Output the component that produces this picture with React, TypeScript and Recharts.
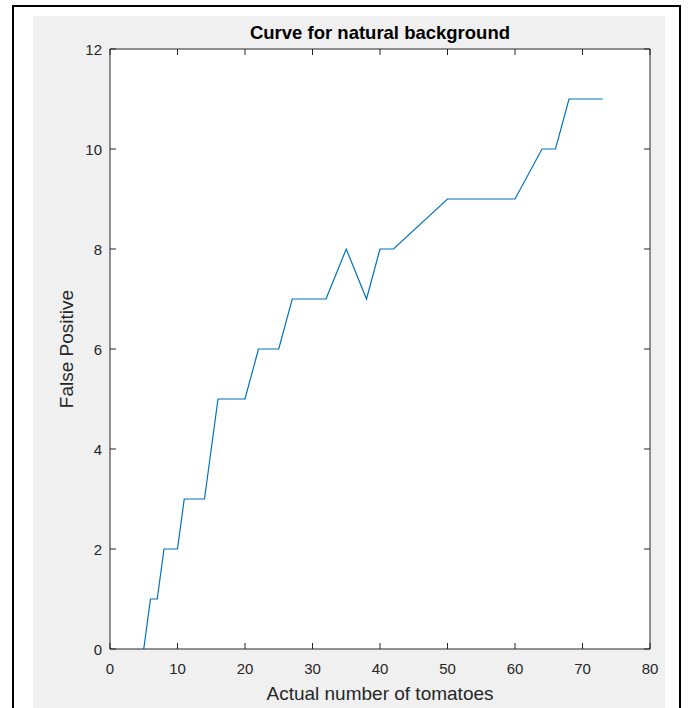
import React from 'react'
import { LineChart, Line, XAxis, YAxis, CartesianGrid } from 'recharts'

const tomatoes = [5, 6, 7, 8, 10, 11, 14, 16, 20, 22, 25, 27, 32, 35, 38, 40, 42, 50, 60, 64, 66, 68, 73]
const falsePositive = [0, 1, 1, 2, 2, 3, 3, 5, 5, 6, 6, 7, 7, 8, 7, 8, 8, 9, 9, 10, 10, 11, 11]
const xTicks = [0, 10, 20, 30, 40, 50, 60, 70, 80]
const yTicks = [0, 2, 4, 6, 8, 10, 12]

const data = tomatoes.map((x, i) => ({ x, y: falsePositive[i] }))

const axisColor = '#262626'
const font = '"Liberation Sans", Arial, sans-serif'
// tick props arrive shifted by tickSize + tickMargin (1 + 1) away from the axis line
const off = 2

const BottomTick = ({ x, y, payload }: any) => (
  <g>
    <line x1={x} x2={x} y1={y - off} y2={y - off - 6} stroke={axisColor} />
    <text x={x} y={y - off + 19} textAnchor="middle" dominantBaseline="central" fill={axisColor} fontSize={15} fontFamily={font}>
      {payload.value}
    </text>
  </g>
)

const TopTick = ({ x, y }: any) => <line x1={x} x2={x} y1={y + off} y2={y + off + 6} stroke={axisColor} />

const LeftTick = ({ x, y, payload }: any) => (
  <g>
    <line x1={x + off} x2={x + off + 6} y1={y} y2={y} stroke={axisColor} />
    <text x={x + off - 8} y={y} textAnchor="end" dominantBaseline="central" fill={axisColor} fontSize={15} fontFamily={font}>
      {payload.value}
    </text>
  </g>
)

const RightTick = ({ x, y }: any) => <line x1={x - off} x2={x - off - 6} y1={y} y2={y} stroke={axisColor} />

export default function App() {
  return (
    <div style={{ position: 'absolute', left: 0, top: 0, width: 691, height: 708, background: '#fff', overflow: 'hidden' }}>
      <div style={{ position: 'absolute', left: 12, top: 5, width: 669, height: 720, border: '2px solid #000', boxSizing: 'border-box' }} />
      <div style={{ position: 'absolute', left: 33, top: 16, width: 632, height: 692, background: '#f0f0f0' }} />
      <div style={{ position: 'absolute', left: 0, top: 0 }}>
        <LineChart width={691} height={708} data={data} margin={{ top: 48, right: 40, bottom: 0, left: 0 }}>
          <CartesianGrid horizontal={false} vertical={false} fill="#fff" xAxisId="b" yAxisId="l" />
          <XAxis
            xAxisId="b"
            dataKey="x"
            type="number"
            domain={[0, 80]}
            ticks={xTicks}
            height={59}
            tickSize={1}
            tickMargin={1}
            tickLine={false}
            axisLine={{ stroke: axisColor }}
            tick={<BottomTick />}
            interval={0}
          />
          <XAxis
            xAxisId="t"
            orientation="top"
            dataKey="x"
            type="number"
            domain={[0, 80]}
            ticks={xTicks}
            height={1}
            tickSize={1}
            tickMargin={1}
            tickLine={false}
            axisLine={{ stroke: axisColor }}
            tick={<TopTick />}
            interval={0}
          />
          <YAxis
            yAxisId="l"
            type="number"
            domain={[0, 12]}
            ticks={yTicks}
            width={110}
            tickSize={1}
            tickMargin={1}
            tickLine={false}
            axisLine={{ stroke: axisColor }}
            tick={<LeftTick />}
            interval={0}
          />
          <YAxis
            yAxisId="r"
            orientation="right"
            type="number"
            domain={[0, 12]}
            ticks={yTicks}
            width={1}
            tickSize={1}
            tickMargin={1}
            tickLine={false}
            axisLine={{ stroke: axisColor }}
            tick={<RightTick />}
            interval={0}
          />
          <Line
            xAxisId="b"
            yAxisId="l"
            type="linear"
            dataKey="y"
            stroke="#0072BD"
            strokeWidth={1.2}
            dot={false}
            isAnimationActive={false}
          />
          <Line
            xAxisId="t"
            yAxisId="r"
            type="linear"
            dataKey="y"
            stroke="none"
            dot={false}
            legendType="none"
            isAnimationActive={false}
          />
        </LineChart>
      </div>
      <svg width={691} height={708} style={{ position: 'absolute', left: 0, top: 0, pointerEvents: 'none' }}>
        <text x={380} y={39} textAnchor="middle" fontSize={18.5} fontWeight="bold" fill="#000" fontFamily={font}>
          Curve for natural background
        </text>
        <text x={380} y={700} textAnchor="middle" fontSize={19} fill={axisColor} fontFamily={font}>
          Actual number of tomatoes
        </text>
        <text
          x={0}
          y={0}
          transform="translate(73 349) rotate(-90)"
          textAnchor="middle"
          fontSize={19}
          fill={axisColor}
          fontFamily={font}
        >
          False Positive
        </text>
      </svg>
    </div>
  )
}
